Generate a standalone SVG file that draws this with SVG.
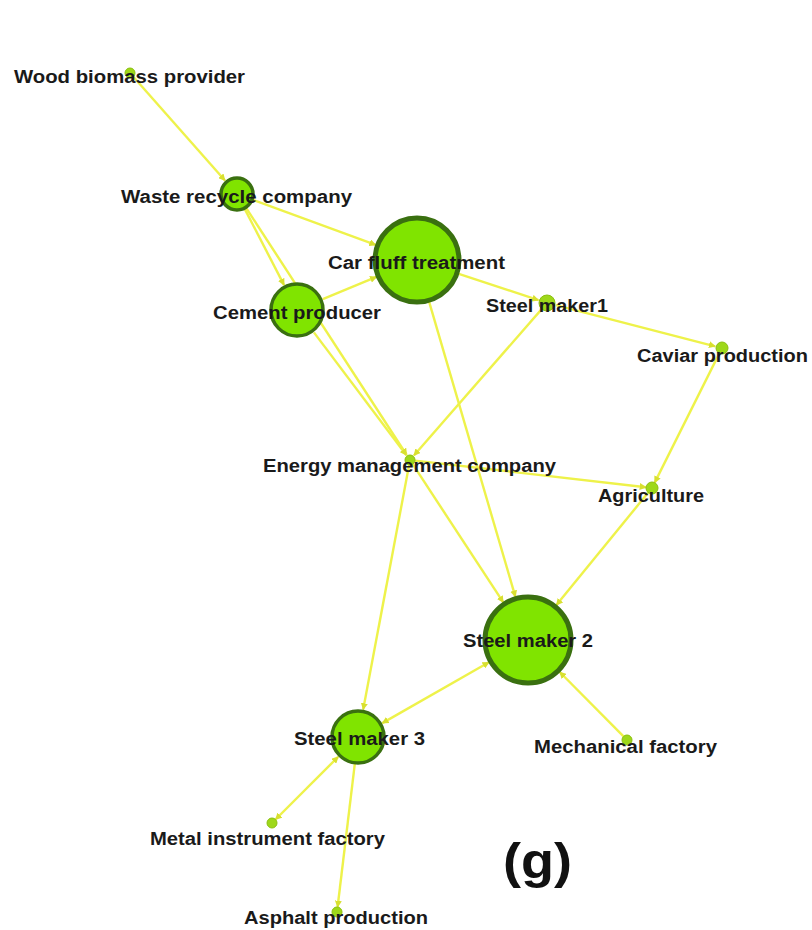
<svg xmlns="http://www.w3.org/2000/svg" width="812" height="930" viewBox="0 0 812 930">
<defs>
<marker id="ah" viewBox="0 0 10 10" refX="9" refY="5" markerWidth="7" markerHeight="7" markerUnits="userSpaceOnUse" orient="auto-start-reverse">
<path d="M0,0 L10,5 L0,10 z" fill="#d8e030"/>
</marker>
<style>
.e{stroke:#eef24a;stroke-width:2.4;fill:none;marker-end:url(#ah)}
.b{marker-start:url(#ah)}
.big{fill:#80e400;stroke:#3a7010;stroke-width:5}
.mid{fill:#80e400;stroke:#3a7010;stroke-width:3.5}
.sm{fill:#9ed81a;stroke:#8cc010;stroke-width:1}
.t{font-family:"Liberation Sans",Arial,sans-serif;font-weight:bold;font-size:17.5px;fill:#1a1a1a}
</style>
</defs>
<rect width="812" height="930" fill="#ffffff"/>
<g id="connectors">
<line class="e" x1="133.3" y1="76.7" x2="225" y2="180.5"/>
<line class="e" x1="244.8" y1="209.1" x2="284.1" y2="285.1"/>
<line class="e" x1="246.3" y1="208.2" x2="406.7" y2="455"/>
<line class="e" x1="253" y1="199.8" x2="375.7" y2="244.9"/>
<line class="e" x1="322.8" y1="299.2" x2="376.4" y2="276.9"/>
<line class="e" x1="313.9" y1="332.4" x2="406.4" y2="455.2"/>
<line class="e" x1="458.8" y1="273.8" x2="538.5" y2="300.2"/>
<line class="e" x1="555.7" y1="305.2" x2="715.2" y2="346.3"/>
<line class="e" x1="541.7" y1="309.1" x2="413.9" y2="455.5"/>
<line class="e" x1="429" y1="301.3" x2="515.4" y2="596.8"/>
<line class="e" x1="719.3" y1="353.4" x2="654.7" y2="482.6"/>
<line class="e" x1="415" y1="460.6" x2="646" y2="487.3"/>
<line class="e" x1="648.2" y1="492.6" x2="556.4" y2="605.1"/>
<line class="e" x1="412.7" y1="464.2" x2="503.3" y2="602.4"/>
<line class="e" x1="409.1" y1="465" x2="363.2" y2="709.5"/>
<line class="e b" x1="488.9" y1="662.3" x2="382.3" y2="723.1"/>
<line class="e" x1="623.5" y1="736.4" x2="559.7" y2="672"/>
<line class="e b" x1="275.5" y1="819.5" x2="338.2" y2="756.8"/>
<line class="e" x1="354.8" y1="763.8" x2="337.6" y2="907"/>
</g>
<g id="wood-biomass-provider"><circle class="sm" cx="130" cy="73" r="5"/><text class="t" x="14" y="83" textLength="231" lengthAdjust="spacingAndGlyphs">Wood biomass provider</text></g>
<g id="waste-recycle-company"><circle class="mid" cx="237" cy="194" r="16"/><text class="t" x="121" y="203" textLength="231" lengthAdjust="spacingAndGlyphs">Waste recycle company</text></g>
<g id="car-fluff-treatment"><circle class="big" cx="417" cy="260" r="42"/><text class="t" x="328" y="269" textLength="177" lengthAdjust="spacingAndGlyphs">Car fluff treatment</text></g>
<g id="cement-producer"><circle class="mid" cx="297" cy="310" r="26"/><text class="t" x="213" y="319" textLength="168" lengthAdjust="spacingAndGlyphs">Cement producer</text></g>
<g id="steel-maker1"><circle class="sm" cx="547" cy="303" r="8"/><text class="t" x="486" y="312" textLength="122" lengthAdjust="spacingAndGlyphs">Steel maker1</text></g>
<g id="caviar-production"><circle class="sm" cx="722" cy="348" r="6"/><text class="t" x="637" y="362" textLength="171" lengthAdjust="spacingAndGlyphs">Caviar production</text></g>
<g id="energy-management-company"><circle class="sm" cx="410" cy="460" r="5"/><text class="t" x="263" y="472" textLength="293" lengthAdjust="spacingAndGlyphs">Energy management company</text></g>
<g id="agriculture"><circle class="sm" cx="652" cy="488" r="6"/><text class="t" x="598" y="502" textLength="106" lengthAdjust="spacingAndGlyphs">Agriculture</text></g>
<g id="steel-maker-2"><circle class="big" cx="528" cy="640" r="43"/><text class="t" x="463" y="647" textLength="130" lengthAdjust="spacingAndGlyphs">Steel maker 2</text></g>
<g id="steel-maker-3"><circle class="mid" cx="358" cy="737" r="26"/><text class="t" x="294" y="745" textLength="131" lengthAdjust="spacingAndGlyphs">Steel maker 3</text></g>
<g id="mechanical-factory"><circle class="sm" cx="627" cy="740" r="5"/><text class="t" x="534" y="753" textLength="183" lengthAdjust="spacingAndGlyphs">Mechanical factory</text></g>
<g id="metal-instrument-factory"><circle class="sm" cx="272" cy="823" r="5"/><text class="t" x="150" y="845" textLength="235" lengthAdjust="spacingAndGlyphs">Metal instrument factory</text></g>
<g id="asphalt-production"><circle class="sm" cx="337" cy="912" r="5"/><text class="t" x="244" y="924" textLength="184" lengthAdjust="spacingAndGlyphs">Asphalt production</text></g>
<text x="503" y="878" font-family="'Liberation Sans',Arial,sans-serif" font-weight="bold" font-size="50" textLength="69" lengthAdjust="spacingAndGlyphs" fill="#111">(g)</text>
</svg>
